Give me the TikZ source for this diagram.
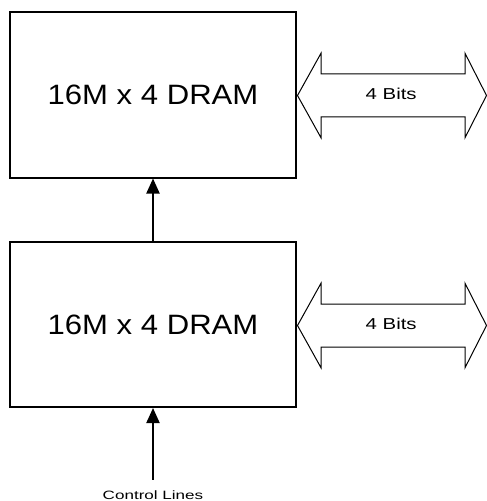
\documentclass[tikz,border=0pt]{standalone}
\usepackage{fontspec}
\setmainfont{Liberation Sans}
\usetikzlibrary{arrows.meta}
\begin{document}
\begin{tikzpicture}[x=1bp,y=-1bp,
  dram/.style={draw, line width=2bp, minimum width=286.5bp, minimum height=165bp, inner sep=0pt,
    font=\fontsize{28bp}{30bp}\selectfont},
  bus/.style={draw, line width=1bp, line join=miter},
  conn/.style={line width=2bp, -{Triangle[width=13bp,length=15bp]}},
  bitslbl/.style={anchor=base, inner sep=0pt, font=\fontsize{15.8bp}{17bp}\selectfont},
  ctllbl/.style={anchor=base, inner sep=0pt, font=\fontsize{12.1bp}{13bp}\selectfont}]
\useasboundingbox (0,0) rectangle (487,501);
\node[dram] (top) at (153,95) {\scalebox{1.11}[1]{16M x 4 DRAM}};
\node[dram] (bot) at (153,324.5) {\scalebox{1.11}[1]{16M x 4 DRAM}};
\foreach \c/\n in {95.5/topbus,325.5/botbus}{
  \draw[bus] (297.5,\c) -- (321,\c-42.25) -- (321,\c-21.5) -- (465,\c-21.5) -- (465,\c-42.25)
    -- (486.5,\c) -- (465,\c+42.25) -- (465,\c+21.5) -- (321,\c+21.5) -- (321,\c+42.25) -- cycle;
  \node[bitslbl] (\n) at (391.2,\c+4) {\scalebox{1.29}[1]{4 Bits}};
}
\draw[conn] (bot.north) -- (top.south);
\coordinate (ctl) at (153,479.5);
\draw[conn] (ctl) -- (bot.south);
\node[ctllbl] (ctltext) at (153,499.3) {\scalebox{1.41}[1]{Control Lines}};
\end{tikzpicture}
\end{document}
